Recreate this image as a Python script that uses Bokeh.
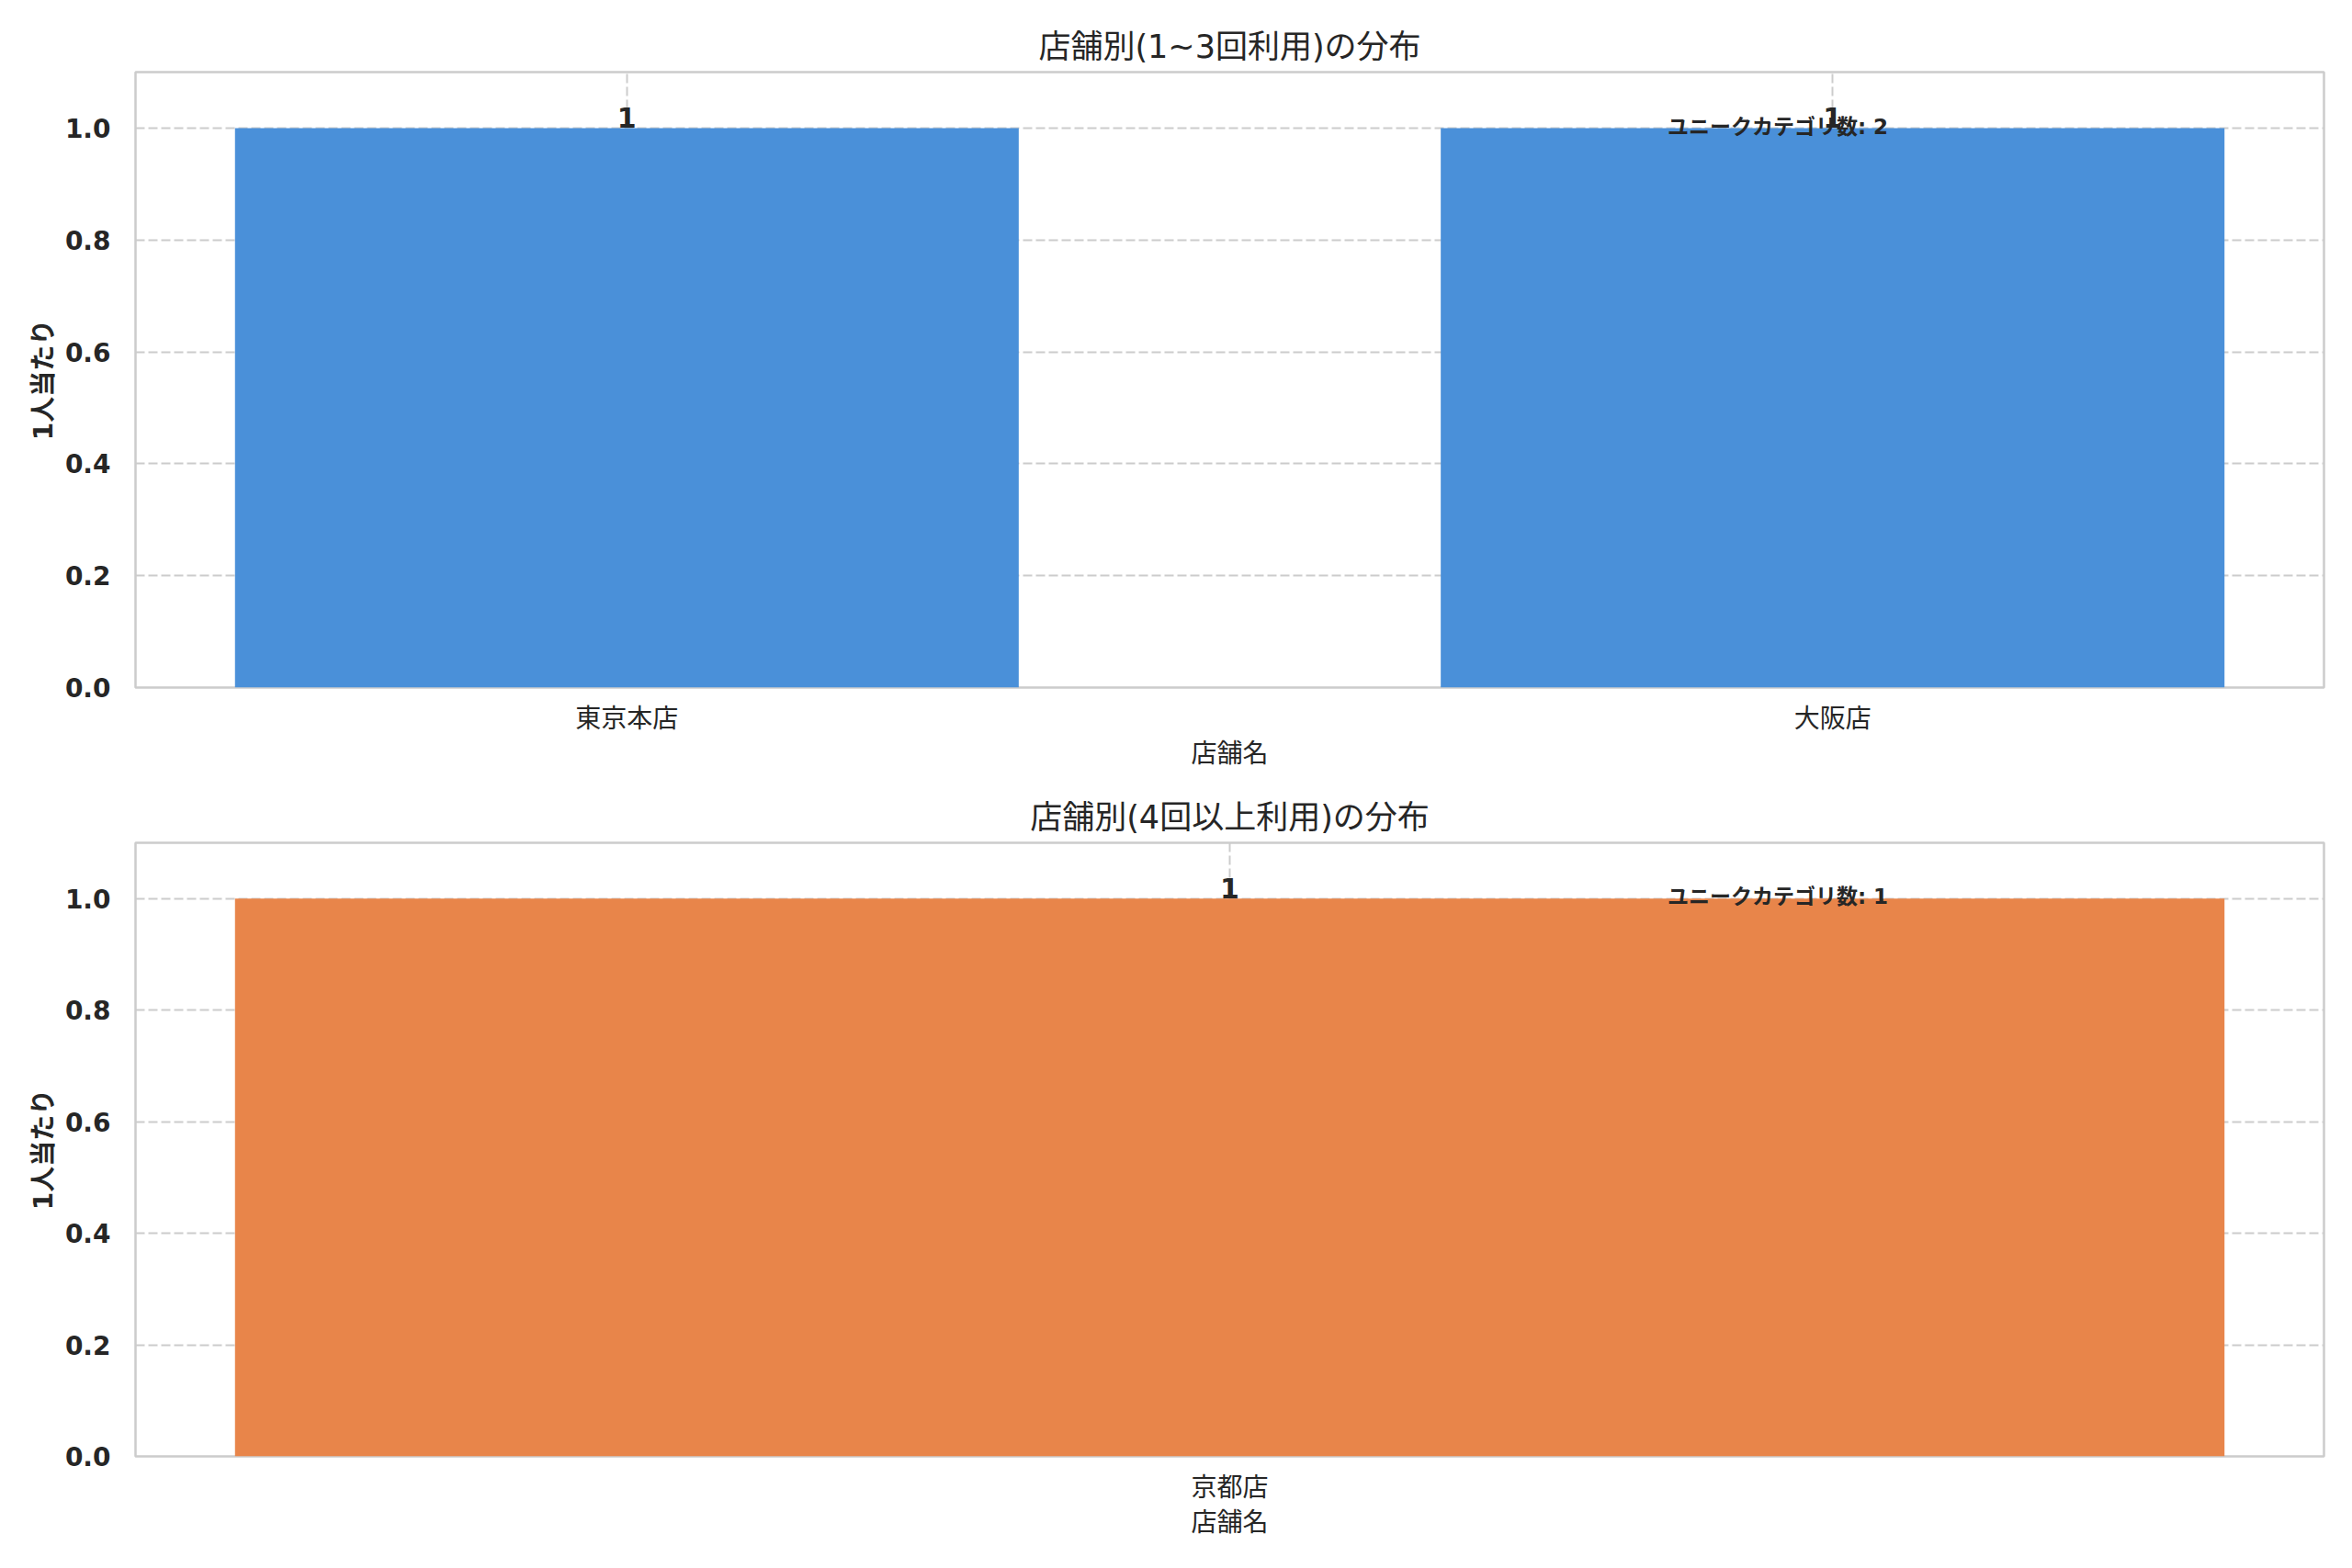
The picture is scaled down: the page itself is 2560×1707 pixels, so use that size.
from bokeh.plotting import figure
from bokeh.models import Range1d, FixedTicker, ColumnDataSource, Column
from bokeh.core.properties import value
from bokeh.embed import file_html
from bokeh.resources import INLINE

# ---- data ----
top_categories = ["東京本店", "大阪店"]
top_values = [1, 1]
bottom_categories = ["京都店"]
bottom_values = [1]
top_title = "店舗別(1~3回利用)の分布"
bottom_title = "店舗別(4回以上利用)の分布"
x_label = "店舗名"
y_label = "1人当たり"
note_label = "ユニークカテゴリ数"
y_ticks = [0.0, 0.2, 0.4, 0.6, 0.8, 1.0]

TOP_COLOR = "#4A90D9"
BOTTOM_COLOR = "#E8854A"
FONT = "DejaVu Sans, Noto Sans CJK JP"
TXT = "#262626"
BAR_W = 0.65
FIG_W = 2552


def make_plot(cats, vals, color, title, height, border_top, border_bottom):
    n = len(cats)
    span = (n - 1) + BAR_W
    margin = 0.05 * span
    x0 = -BAR_W / 2 - margin
    x1 = (n - 1) + BAR_W / 2 + margin
    p = figure(width=FIG_W, height=height, output_backend="svg", toolbar_location=None,
               x_range=Range1d(x0, x1), y_range=Range1d(0, 1.1),
               min_border_left=147, min_border_right=23,
               min_border_top=border_top, min_border_bottom=border_bottom)
    p.title.text = title
    p.title.align = "center"
    p.title.text_font = FONT
    p.title.text_font_size = "35px"
    p.title.text_font_style = "normal"
    p.title.text_color = TXT
    p.title.standoff = 16

    p.outline_line_color = "#cccccc"
    p.outline_line_width = 2.5

    idx = list(range(n))
    src = ColumnDataSource(dict(x=idx, top=vals, lab=[str(v) for v in vals]))

    p.xaxis.ticker = FixedTicker(ticks=idx)
    p.xaxis.major_label_overrides = {i: c for i, c in enumerate(cats)}
    p.yaxis.ticker = FixedTicker(ticks=y_ticks)
    p.yaxis.major_label_overrides = {t: f"{t:.1f}" for t in y_ticks}

    for ax in (p.xaxis[0], p.yaxis[0]):
        ax.axis_line_color = None
        ax.major_tick_line_color = None
        ax.minor_tick_line_color = None
        ax.major_label_text_font = FONT
        ax.major_label_text_color = TXT
        ax.axis_label_text_font = FONT
        ax.axis_label_text_color = TXT
        ax.axis_label_text_font_size = "28px"
    p.xaxis.major_label_text_font_size = "28px"
    p.xaxis.major_label_text_font_style = "normal"
    p.xaxis.major_label_standoff = 11
    p.xaxis.axis_label = x_label
    p.xaxis.axis_label_text_font_style = "normal"
    p.xaxis.axis_label_standoff = 2

    p.yaxis.major_label_text_font_size = "28px"
    p.yaxis.major_label_text_font_style = "bold"
    p.yaxis.major_label_standoff = 21
    p.yaxis.axis_label = y_label
    p.yaxis.axis_label_text_font_style = "bold"
    p.yaxis.axis_label_standoff = 4

    p.xgrid.ticker = FixedTicker(ticks=idx)
    p.ygrid.ticker = FixedTicker(ticks=y_ticks)
    for g in (p.xgrid[0], p.ygrid[0]):
        g.grid_line_color = "#cccccc"
        g.grid_line_width = 2
        g.grid_line_dash = "10 4"

    p.vbar(x="x", top="top", width=BAR_W, source=src, fill_color=color, line_color=None)
    p.text(x="x", y="top", text="lab", source=src, text_align="center",
           text_baseline="bottom", y_offset=0, text_font=value(FONT), text_font_size="30px",
           text_font_style="bold", text_color=TXT)

    # annotation at axes fraction (0.7, 0.9)
    ax_x = x0 + 0.7 * (x1 - x0)
    ax_y = 0.9 * 1.1
    p.text(x=[ax_x], y=[ax_y], text=[f"{note_label}: {len(cats)}"], text_align="left",
           text_baseline="bottom", y_offset=5, text_font=value(FONT), text_font_size="23px",
           text_font_style="bold", text_color=TXT)
    return p


p1 = make_plot(top_categories, top_values, TOP_COLOR, top_title, 857, 78, 109)
p2 = make_plot(bottom_categories, bottom_values, BOTTOM_COLOR, bottom_title, 842, 60, 114)

layout = Column(p1, p2, spacing=0)
open("out.html", "w").write(file_html(layout, INLINE))
